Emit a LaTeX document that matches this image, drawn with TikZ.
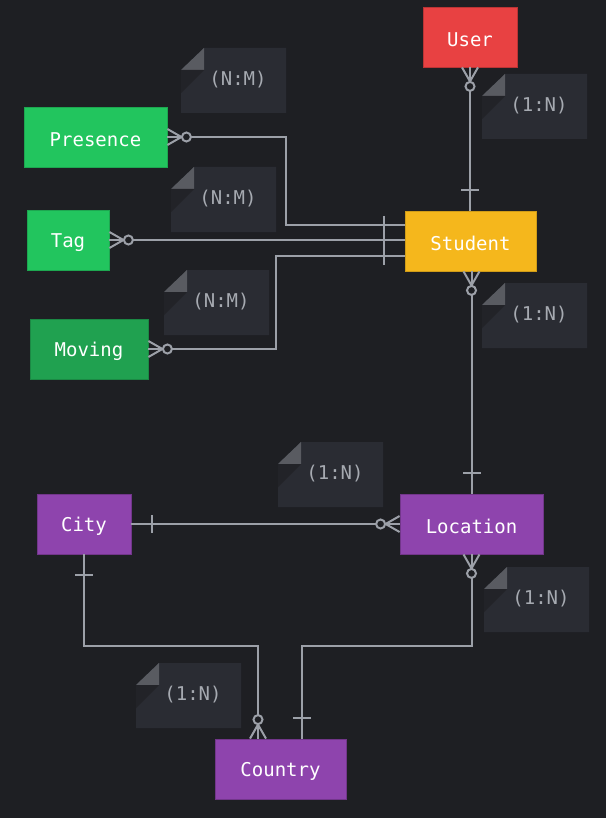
\documentclass[tikz,border=0pt]{standalone}
\usepackage{fontspec}
\setmonofont{DejaVu Sans Mono}
\usetikzlibrary{calc}
\definecolor{bg}{HTML}{1E1F23}
\definecolor{userc}{HTML}{E84142}
\definecolor{studc}{HTML}{F5B71C}
\definecolor{greenc}{HTML}{22C55E}
\definecolor{movc}{HTML}{20A150}
\definecolor{purc}{HTML}{8E44AD}
\definecolor{linec}{HTML}{9CA0A8}
\definecolor{notec}{HTML}{2A2C33}
\definecolor{notelight}{HTML}{595B61}
\definecolor{notedark}{HTML}{222328}
\definecolor{notetext}{HTML}{A6AAB1}
\newcommand{\lbl}[1]{\raisebox{-2.5pt}[\height][\depth]{#1}}
\tikzset{
  ent/.style={minimum height=60pt, inner sep=0pt, text=white, font=\ttfamily\fontsize{19}{22}\selectfont, line width=0.8pt},
  conn/.style={draw=linec, line width=2pt},
  endmark/.style={draw=linec, line width=2pt},
}
\newcommand{\crowcirc}[2]{%
  \begin{scope}[shift={#1}, rotate=#2]
    \draw[endmark] (0pt,8pt) -- (14pt,0pt) -- (0pt,-8pt);
    \draw[endmark, fill=bg] (19pt,0pt) circle (4.5pt);
  \end{scope}}
\newcommand{\onebar}[2]{%
  \begin{scope}[shift={#1}, rotate=#2]
    \draw[endmark] (21pt,-9pt) -- (21pt,9pt);
  \end{scope}}
\newcommand{\notebox}[3]{%
  \begin{scope}[shift={(#1,#2)}]
    \fill[notec] (23,0) -- (105,0) -- (105,65) -- (0,65) -- (0,22) -- cycle;
    \fill[notelight] (0,22) -- (23,0) -- (23,22) -- cycle;
    \fill[notedark] (0,22) -- (23,22) -- (0,45) -- cycle;
    \node[text=notetext, font=\ttfamily\fontsize{19}{22}\selectfont] at (57,32) {#3};
  \end{scope}}
\begin{document}
\begin{tikzpicture}[x=1pt, y=-1pt]
\fill[bg] (0,0) rectangle (606,818);
\useasboundingbox (0,0) rectangle (606,818);

% notes
\notebox{181}{48}{(N:M)}
\notebox{482}{74}{(1:N)}
\notebox{171}{167}{(N:M)}
\notebox{164}{270}{(N:M)}
\notebox{482}{283}{(1:N)}
\notebox{278}{442}{(1:N)}
\notebox{484}{567}{(1:N)}
\notebox{136}{663}{(1:N)}

% entities
\node[ent, fill=userc, draw=userc!80!black, minimum width=94pt] (user) at (470,37) {\lbl{User}};
\node[ent, fill=studc, draw=studc!85!black, minimum width=131pt] (student) at (470.5,241) {\lbl{Student}};
\node[ent, fill=greenc, draw=greenc!85!black, minimum width=143pt] (presence) at (95.5,137) {\lbl{Presence}};
\node[ent, fill=greenc, draw=greenc!85!black, minimum width=82pt] (tag) at (68,240) {\lbl{Tag}};
\node[ent, fill=movc, draw=movc!85!black, minimum width=118pt] (moving) at (89,349) {\lbl{Moving}};
\node[ent, fill=purc, draw=purc!80!black, minimum width=94pt] (city) at (84,524) {\lbl{City}};
\node[ent, fill=purc, draw=purc!80!black, minimum width=143pt] (location) at (471.5,524) {\lbl{Location}};
\node[ent, fill=purc, draw=purc!80!black, minimum width=131pt] (country) at (280.5,769) {\lbl{Country}};

\coordinate (pbend) at (286,137);
\coordinate (mbend) at (276,349);
\coordinate (lcb) at (302,646);
\coordinate (ccb) at (258,646);
\coordinate (sw1) at ([yshift=16pt]student.west);
\coordinate (sw2) at (student.west |- tag.east);
\coordinate (sw3) at ([yshift=-15pt]student.west);
\coordinate (sn) at (user.south |- student.north);
\coordinate (ss) at (location.north |- student.south);
\coordinate (cn1) at (lcb |- country.north);
\coordinate (cn2) at (ccb |- country.north);

% connectors
\draw[conn] (user.south) -- (sn);
\draw[conn] (sw1) -| (pbend) -- (presence.east);
\draw[conn] (sw2) -- (tag.east);
\draw[conn] (sw3) -| (mbend) -- (moving.east);
\draw[conn] (ss) -- (location.north);
\draw[conn] (city.east) -- (location.west);
\draw[conn] (location.south) |- (lcb) -- (cn1);
\draw[conn] (city.south) |- (ccb) -- (cn2);

% end marks
\crowcirc{(user.south)}{-90}
\onebar{(sn)}{90}
\crowcirc{(presence.east)}{0}
\onebar{(sw1)}{180}
\onebar{(sw2)}{180}
\onebar{(sw3)}{180}
\crowcirc{(tag.east)}{0}
\crowcirc{(moving.east)}{0}
\crowcirc{(ss)}{-90}
\onebar{(location.north)}{90}
\onebar{(city.east)}{0}
\crowcirc{(location.west)}{180}
\crowcirc{(location.south)}{-90}
\onebar{(cn1)}{90}
\onebar{(city.south)}{-90}
\crowcirc{(cn2)}{90}
\end{tikzpicture}
\end{document}
